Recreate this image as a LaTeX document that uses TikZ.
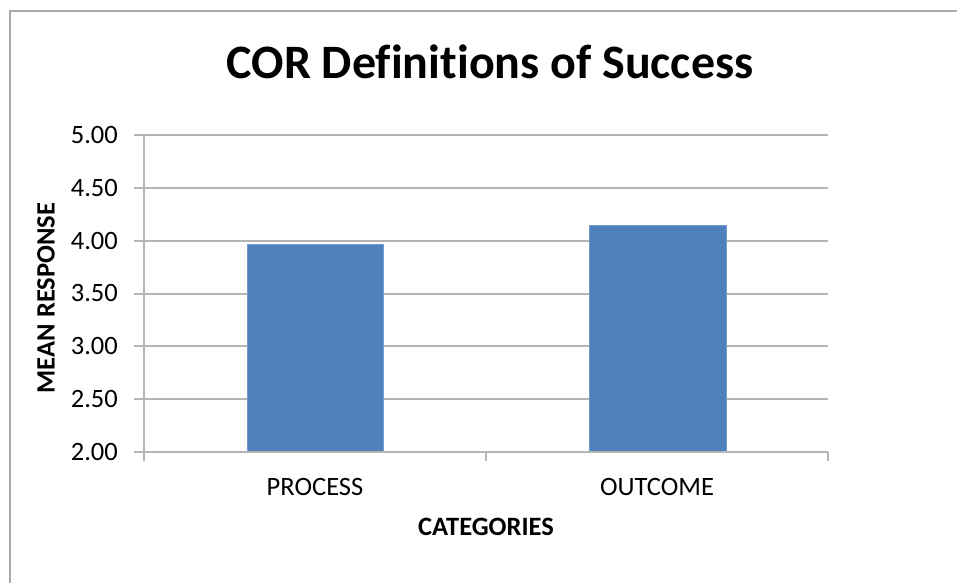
\documentclass[tikz,border=0pt]{standalone}
\usepackage{fontspec}
\setmainfont[Ligatures=NoCommon]{Carlito}
\begin{document}
\begin{tikzpicture}[x=1pt,y=-1pt,
  grid/.style={draw=gray!95!black!55, line width=2pt},
  axisline/.style={draw=gray!95!black!55, line width=2.2pt},
  barbox/.style={fill=barblue, draw=barblue!80!white, line width=0.8pt},
  ticklab/.style={anchor=east, font=\fontsize{26.5}{30}\selectfont, inner sep=0pt},
  catlab/.style={anchor=center, font=\fontsize{26.5}{30}\selectfont, inner sep=0pt},
  axtitle/.style={font=\bfseries\fontsize{26.5}{30}\selectfont, inner sep=0pt}]
\definecolor{barblue}{HTML}{4F81BD}
\useasboundingbox (0,0) rectangle (957,582);
\fill[white] (0,0) rectangle (957,582);
\draw[draw=gray!90!black!60, line width=2pt] (10,11) rectangle (975,600);
% title
\node[font=\bfseries\fontsize{48}{56}\selectfont, inner sep=0pt] (title) at (490,62) {COR Definitions of Success};
% gridlines and y ticks
\foreach \v/\lab in {2.5/2.50,3/3.00,3.5/3.50,4/4.00,4.5/4.50,5/5.00}{
  \pgfmathsetmacro{\yy}{452-(\v-2)*105.67}
  \draw[grid] (134,\yy) -- (828,\yy);
  \node[ticklab] at (118,\yy) {\lab};
}
\node[ticklab] (l2) at (118,452) {2.00};
% bars
\coordinate (b1bl) at (247,452);
\coordinate (b1tr) at (383,244);
\coordinate (b2bl) at (589,452);
\coordinate (b2tr) at (726,225);
\draw[barbox] (b1bl) rectangle (b1tr);
\draw[barbox] (b2bl) rectangle (b2tr);
% axes
\coordinate (o) at (144,452);
\coordinate (ytop) at (144,135);
\coordinate (xend) at (828,452);
\draw[axisline] (ytop) -- (144,461);
\draw[axisline] (134,452) -- (xend);
\draw[axisline] (486,452) -- (486,461);
\draw[axisline] (828,452) -- (828,461);
% category labels
\node[catlab] (p) at (315,487) {PROCESS};
\node[catlab] (oc) at (657,487) {OUTCOME};
% axis titles
\node[axtitle] (xt) at (486,527) {CATEGORIES};
\node[axtitle, rotate=90] (yt) at (46,298) {MEAN RESPONSE};
\end{tikzpicture}
\end{document}
